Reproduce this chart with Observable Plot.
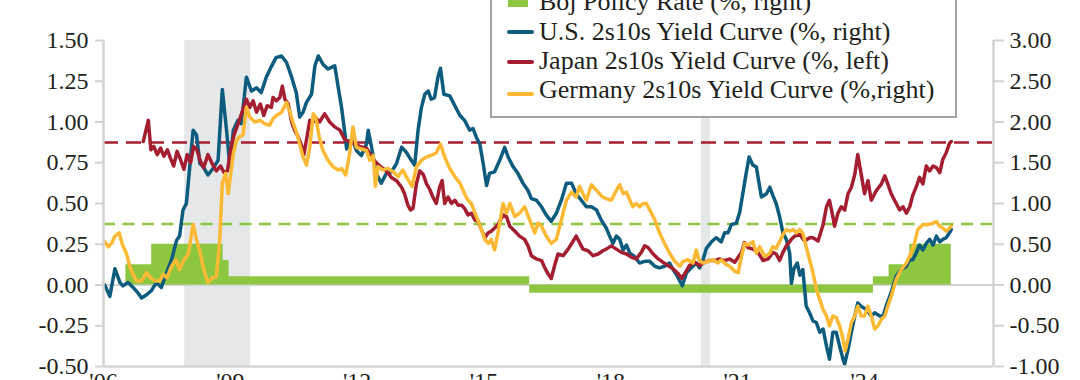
<!DOCTYPE html>
<html><head><meta charset="utf-8">
<script src="https://cdn.jsdelivr.net/npm/d3@7"></script>
<script src="https://cdn.jsdelivr.net/npm/@observablehq/plot@0.6"></script>
<style>
html,body{margin:0;padding:0;background:#fff;}
#wrap{position:relative;width:1080px;height:380px;overflow:hidden;background:#fff;}
</style></head>
<body><div id="wrap"></div>
<script>
// ---- data (decimal year, value) ----
// U.S. 2s10s (%, right axis)
const usCurve = [
[2006.03,0.00],[2006.15,-0.14],[2006.27,0.20],[2006.39,0.03],[2006.46,-0.01],[2006.58,0.03],[2006.70,-0.03],[2006.82,-0.10],[2006.90,-0.16],[2007.02,-0.12],[2007.13,-0.07],[2007.25,0.03],[2007.37,-0.03],[2007.49,0.15],[2007.61,0.31],[2007.73,0.55],[2007.80,0.60],[2007.88,0.92],[2007.96,1.00],[2008.04,1.45],[2008.12,1.90],[2008.20,1.84],[2008.28,1.49],[2008.36,1.45],[2008.47,1.35],[2008.59,1.43],[2008.71,1.53],[2008.81,2.40],[2008.91,1.90],[2008.99,1.45],[2009.07,1.90],[2009.18,2.02],[2009.26,1.98],[2009.38,2.55],[2009.50,2.38],[2009.62,2.42],[2009.73,2.36],[2009.85,2.55],[2009.97,2.68],[2010.08,2.79],[2010.21,2.81],[2010.33,2.73],[2010.45,2.55],[2010.56,2.36],[2010.64,2.06],[2010.72,2.12],[2010.80,2.24],[2010.92,2.34],[2011.00,2.69],[2011.08,2.81],[2011.19,2.71],[2011.31,2.65],[2011.39,2.67],[2011.47,2.69],[2011.55,2.43],[2011.63,2.18],[2011.71,1.86],[2011.75,1.67],[2011.82,1.77],[2011.90,1.77],[2011.98,1.65],[2012.10,1.59],[2012.22,1.73],[2012.26,1.90],[2012.34,1.69],[2012.45,1.37],[2012.57,1.25],[2012.69,1.37],[2012.81,1.39],[2012.93,1.49],[2013.05,1.69],[2013.16,1.63],[2013.28,1.53],[2013.36,1.47],[2013.44,1.90],[2013.52,2.18],[2013.60,2.34],[2013.68,2.38],[2013.75,2.28],[2013.83,2.30],[2013.91,2.55],[2013.97,2.66],[2014.05,2.34],[2014.19,2.32],[2014.31,2.20],[2014.43,2.08],[2014.54,2.02],[2014.66,1.90],[2014.74,1.92],[2014.82,1.81],[2014.90,1.73],[2014.98,1.49],[2015.06,1.22],[2015.13,1.37],[2015.25,1.39],[2015.37,1.53],[2015.49,1.69],[2015.57,1.57],[2015.69,1.45],[2015.80,1.37],[2015.92,1.25],[2016.04,1.16],[2016.12,1.06],[2016.24,1.04],[2016.36,0.96],[2016.47,0.86],[2016.59,0.78],[2016.71,0.88],[2016.83,1.04],[2016.95,1.25],[2017.07,1.25],[2017.18,1.12],[2017.30,1.04],[2017.42,0.96],[2017.54,0.96],[2017.66,0.92],[2017.77,0.80],[2017.89,0.70],[2017.97,0.60],[2018.05,0.51],[2018.13,0.60],[2018.21,0.56],[2018.29,0.43],[2018.37,0.49],[2018.45,0.39],[2018.56,0.35],[2018.68,0.27],[2018.80,0.29],[2018.92,0.29],[2019.04,0.23],[2019.15,0.21],[2019.27,0.23],[2019.39,0.27],[2019.47,0.19],[2019.55,0.13],[2019.63,0.05],[2019.69,-0.01],[2019.79,0.15],[2019.90,0.21],[2020.02,0.27],[2020.10,0.21],[2020.18,0.31],[2020.26,0.45],[2020.38,0.53],[2020.49,0.58],[2020.61,0.53],[2020.69,0.64],[2020.77,0.64],[2020.85,0.74],[2020.97,0.76],[2021.05,0.90],[2021.12,1.12],[2021.20,1.37],[2021.27,1.57],[2021.36,1.47],[2021.44,1.45],[2021.56,1.08],[2021.68,1.12],[2021.76,1.20],[2021.83,1.10],[2021.91,1.00],[2021.99,0.84],[2022.07,0.64],[2022.15,0.56],[2022.23,0.39],[2022.27,0.02],[2022.33,0.20],[2022.41,0.27],[2022.47,0.12],[2022.54,0.19],[2022.62,-0.26],[2022.70,-0.34],[2022.78,-0.44],[2022.86,-0.46],[2022.94,-0.58],[2023.02,-0.54],[2023.10,-0.75],[2023.17,-0.91],[2023.25,-0.58],[2023.33,-0.58],[2023.41,-0.75],[2023.49,-0.91],[2023.53,-0.97],[2023.61,-0.79],[2023.69,-0.58],[2023.77,-0.38],[2023.84,-0.22],[2023.92,-0.26],[2024.04,-0.30],[2024.16,-0.38],[2024.24,-0.34],[2024.36,-0.38],[2024.44,-0.38],[2024.51,-0.26],[2024.63,-0.09],[2024.75,0.11],[2024.87,0.19],[2024.99,0.23],[2025.07,0.31],[2025.14,0.31],[2025.22,0.39],[2025.30,0.49],[2025.38,0.43],[2025.46,0.51],[2025.54,0.56],[2025.62,0.49],[2025.70,0.60],[2025.78,0.53],[2025.85,0.56],[2025.93,0.58],[2026.01,0.64],[2026.05,0.68]
];
// Japan 2s10s (%, left axis)
const japanCurve = [
[2006.94,0.88],[2007.06,1.01],[2007.12,0.83],[2007.19,0.85],[2007.27,0.80],[2007.35,0.84],[2007.43,0.79],[2007.51,0.83],[2007.58,0.78],[2007.66,0.73],[2007.74,0.82],[2007.82,0.77],[2007.90,0.71],[2007.98,0.80],[2008.06,0.75],[2008.13,0.85],[2008.21,0.83],[2008.29,0.76],[2008.37,0.72],[2008.47,0.80],[2008.58,0.74],[2008.67,0.70],[2008.77,0.73],[2008.85,0.69],[2008.93,0.70],[2009.02,0.85],[2009.10,0.93],[2009.20,1.00],[2009.30,1.08],[2009.38,1.14],[2009.46,1.09],[2009.54,1.13],[2009.62,1.06],[2009.71,1.11],[2009.79,1.04],[2009.87,1.10],[2009.97,1.09],[2010.01,1.15],[2010.09,1.13],[2010.17,1.15],[2010.23,1.22],[2010.29,1.14],[2010.37,1.11],[2010.45,1.00],[2010.52,0.95],[2010.60,0.91],[2010.68,0.86],[2010.74,0.80],[2010.80,0.89],[2010.88,1.01],[2010.96,1.00],[2011.04,1.02],[2011.11,1.00],[2011.23,1.05],[2011.35,1.00],[2011.47,0.97],[2011.59,0.95],[2011.71,0.89],[2011.90,0.87],[2012.06,0.85],[2012.22,0.84],[2012.38,0.77],[2012.53,0.73],[2012.69,0.70],[2012.81,0.66],[2012.93,0.64],[2013.05,0.60],[2013.12,0.56],[2013.20,0.49],[2013.26,0.46],[2013.32,0.47],[2013.40,0.62],[2013.48,0.70],[2013.56,0.68],[2013.64,0.62],[2013.71,0.59],[2013.79,0.54],[2013.87,0.50],[2013.95,0.60],[2014.01,0.64],[2014.07,0.50],[2014.15,0.54],[2014.23,0.50],[2014.31,0.52],[2014.39,0.49],[2014.47,0.49],[2014.54,0.47],[2014.62,0.43],[2014.70,0.44],[2014.78,0.40],[2014.86,0.39],[2014.94,0.34],[2015.02,0.29],[2015.10,0.32],[2015.17,0.33],[2015.25,0.35],[2015.33,0.37],[2015.45,0.43],[2015.53,0.42],[2015.61,0.36],[2015.73,0.33],[2015.84,0.30],[2015.96,0.28],[2016.04,0.24],[2016.12,0.18],[2016.24,0.16],[2016.36,0.15],[2016.43,0.11],[2016.51,0.07],[2016.59,0.04],[2016.67,0.12],[2016.75,0.19],[2016.87,0.18],[2016.99,0.22],[2017.11,0.27],[2017.18,0.30],[2017.26,0.26],[2017.34,0.22],[2017.46,0.21],[2017.58,0.18],[2017.70,0.19],[2017.81,0.21],[2017.89,0.22],[2018.01,0.24],[2018.13,0.22],[2018.25,0.20],[2018.37,0.19],[2018.49,0.17],[2018.60,0.16],[2018.72,0.20],[2018.80,0.24],[2018.88,0.23],[2019.00,0.19],[2019.12,0.16],[2019.23,0.14],[2019.35,0.12],[2019.47,0.10],[2019.59,0.07],[2019.67,0.04],[2019.75,0.07],[2019.86,0.12],[2019.98,0.14],[2020.10,0.12],[2020.22,0.14],[2020.34,0.15],[2020.46,0.15],[2020.57,0.16],[2020.69,0.15],[2020.81,0.16],[2020.93,0.14],[2021.01,0.17],[2021.09,0.20],[2021.16,0.26],[2021.24,0.23],[2021.36,0.22],[2021.48,0.20],[2021.60,0.15],[2021.72,0.16],[2021.83,0.20],[2021.91,0.19],[2021.99,0.15],[2022.07,0.20],[2022.15,0.24],[2022.27,0.28],[2022.35,0.30],[2022.47,0.31],[2022.58,0.27],[2022.70,0.29],[2022.78,0.29],[2022.90,0.27],[2023.02,0.37],[2023.10,0.48],[2023.17,0.52],[2023.25,0.42],[2023.29,0.36],[2023.37,0.44],[2023.45,0.48],[2023.53,0.46],[2023.61,0.56],[2023.69,0.60],[2023.77,0.68],[2023.84,0.80],[2023.92,0.68],[2024.00,0.56],[2024.08,0.64],[2024.16,0.52],[2024.28,0.58],[2024.40,0.62],[2024.48,0.67],[2024.55,0.62],[2024.63,0.56],[2024.75,0.50],[2024.83,0.46],[2024.91,0.48],[2024.99,0.44],[2025.07,0.48],[2025.14,0.55],[2025.22,0.60],[2025.30,0.66],[2025.38,0.62],[2025.46,0.73],[2025.54,0.70],[2025.62,0.73],[2025.70,0.72],[2025.78,0.69],[2025.85,0.77],[2025.93,0.81],[2026.01,0.87],[2026.05,0.88]
];
// Germany 2s10s (%, right axis)
const germanyCurve = [
[2006.03,0.53],[2006.11,0.47],[2006.19,0.51],[2006.27,0.60],[2006.37,0.64],[2006.45,0.49],[2006.54,0.39],[2006.62,0.23],[2006.70,0.13],[2006.78,0.05],[2006.90,0.05],[2007.02,0.15],[2007.11,0.09],[2007.21,0.05],[2007.33,0.05],[2007.41,0.13],[2007.50,0.09],[2007.61,0.23],[2007.71,0.31],[2007.80,0.19],[2007.90,0.31],[2008.00,0.37],[2008.12,0.74],[2008.20,0.56],[2008.29,0.39],[2008.37,0.19],[2008.47,0.03],[2008.58,0.09],[2008.67,0.10],[2008.75,0.56],[2008.81,1.25],[2008.89,1.37],[2008.95,1.12],[2009.00,1.33],[2009.07,1.61],[2009.14,1.77],[2009.22,1.82],[2009.30,1.84],[2009.38,2.18],[2009.46,2.06],[2009.58,2.00],[2009.70,2.02],[2009.81,1.98],[2009.93,1.96],[2010.01,2.04],[2010.09,2.08],[2010.21,2.12],[2010.33,2.24],[2010.41,2.12],[2010.48,2.00],[2010.56,1.88],[2010.64,1.73],[2010.72,1.57],[2010.80,1.47],[2010.88,1.69],[2010.96,2.10],[2011.02,2.06],[2011.10,1.82],[2011.19,1.65],[2011.31,1.53],[2011.43,1.45],[2011.55,1.41],[2011.63,1.43],[2011.73,1.35],[2011.82,1.61],[2011.90,1.94],[2011.98,1.69],[2012.10,1.67],[2012.22,1.65],[2012.30,1.53],[2012.38,1.59],[2012.43,1.21],[2012.49,1.45],[2012.61,1.41],[2012.73,1.43],[2012.85,1.39],[2012.97,1.33],[2013.08,1.41],[2013.16,1.33],[2013.30,1.21],[2013.40,1.45],[2013.52,1.53],[2013.64,1.57],[2013.75,1.59],[2013.87,1.62],[2013.97,1.73],[2014.07,1.57],[2014.19,1.43],[2014.31,1.33],[2014.43,1.25],[2014.54,1.12],[2014.62,1.04],[2014.70,1.00],[2014.82,0.84],[2014.94,0.68],[2015.02,0.56],[2015.10,0.51],[2015.17,0.56],[2015.25,0.43],[2015.33,0.64],[2015.45,1.00],[2015.53,0.88],[2015.61,1.00],[2015.73,0.84],[2015.84,0.88],[2015.96,0.96],[2016.08,0.80],[2016.20,0.64],[2016.28,0.76],[2016.36,0.72],[2016.47,0.60],[2016.59,0.51],[2016.71,0.56],[2016.83,0.80],[2016.95,1.04],[2017.07,1.14],[2017.18,1.08],[2017.26,1.21],[2017.34,1.12],[2017.42,1.04],[2017.54,1.23],[2017.66,1.16],[2017.73,1.12],[2017.81,1.08],[2017.89,1.06],[2018.01,1.04],[2018.13,1.16],[2018.21,1.23],[2018.29,1.12],[2018.37,1.14],[2018.45,1.04],[2018.52,0.96],[2018.60,1.00],[2018.68,0.96],[2018.76,1.00],[2018.84,1.00],[2018.92,0.92],[2019.04,0.80],[2019.15,0.64],[2019.27,0.51],[2019.39,0.39],[2019.51,0.29],[2019.63,0.23],[2019.71,0.29],[2019.82,0.31],[2019.94,0.27],[2020.02,0.43],[2020.08,0.31],[2020.18,0.27],[2020.30,0.29],[2020.42,0.31],[2020.53,0.27],[2020.61,0.31],[2020.73,0.25],[2020.81,0.23],[2020.93,0.17],[2021.01,0.15],[2021.09,0.35],[2021.16,0.51],[2021.24,0.49],[2021.36,0.53],[2021.44,0.39],[2021.52,0.47],[2021.64,0.35],[2021.76,0.39],[2021.83,0.47],[2021.91,0.45],[2021.99,0.53],[2022.07,0.62],[2022.15,0.68],[2022.23,0.66],[2022.31,0.68],[2022.39,0.64],[2022.47,0.68],[2022.54,0.64],[2022.62,0.47],[2022.70,0.31],[2022.78,0.15],[2022.86,-0.05],[2022.94,-0.18],[2023.02,-0.30],[2023.10,-0.38],[2023.17,-0.50],[2023.25,-0.38],[2023.33,-0.40],[2023.41,-0.50],[2023.49,-0.66],[2023.54,-0.81],[2023.61,-0.66],[2023.69,-0.46],[2023.77,-0.38],[2023.84,-0.26],[2023.92,-0.38],[2024.00,-0.38],[2024.08,-0.26],[2024.16,-0.38],[2024.24,-0.54],[2024.32,-0.50],[2024.40,-0.42],[2024.48,-0.38],[2024.55,-0.26],[2024.63,-0.14],[2024.75,0.07],[2024.87,0.19],[2024.99,0.27],[2025.10,0.39],[2025.18,0.51],[2025.26,0.68],[2025.38,0.74],[2025.50,0.74],[2025.62,0.76],[2025.70,0.78],[2025.78,0.72],[2025.85,0.70],[2025.93,0.66],[2026.01,0.70],[2026.05,0.72]
];
// BoJ policy rate (%, right axis), step changes
const bojRate = [
[2006.53,0.25],[2007.14,0.50],[2008.83,0.30],[2008.97,0.10],[2016.08,-0.10],[2024.21,0.10],[2024.58,0.25],[2025.07,0.50],[2026.05,0.50]
];
// recessions (start, end)
const recessions = [[2007.92,2009.48],[2020.14,2020.36]];
// reference levels
const japanLevel = 0.875;   // left axis
const bojLevel = 0.75;      // right axis
// ticks
const leftTicks = [-0.5,-0.25,0,0.25,0.5,0.75,1,1.25,1.5];
const xTicks = [2006,2009,2012,2015,2018,2021,2024];
const xDomain = [2006, 2027.05];
const legendLabels = ["Boj Policy Rate (%, right)","U.S. 2s10s Yield Curve (%, right)","Japan 2s10s Yield Curve (%, left)","Germany 2s10s Yield Curve (%,right)"];

const C = {blue:"#0d5b7d", red:"#a51d31", yellow:"#fcb933", green:"#8dc63f", gray:"#d3d3d3", rec:"#e6e7e9", text:"#231f20"};
const rows = a => a.map(([t,v]) => ({t, v}));
const half = d => d.v / 2; // right-axis values mapped onto the left scale

const chart = Plot.plot({
  width: 1080, height: 380,
  marginTop: 40, marginBottom: 14, marginLeft: 103, marginRight: 87,
  style: {fontFamily: "'Liberation Serif', serif", fontSize: "24px", background: "#fff", color: C.text},
  x: {domain: xDomain, label: null},
  y: {domain: [-0.5, 1.5], label: null},
  marks: [
    Plot.rect(recessions, {x1: d => d[0], x2: d => d[1], y1: () => -0.5, y2: () => 1.5, fill: C.rec}),
    Plot.ruleY([0], {stroke: C.gray, strokeWidth: 2}),
    Plot.areaY(rows(bojRate), {x: "t", y: half, curve: "step-after", fill: C.green}),
    Plot.ruleY([japanLevel], {stroke: C.red, strokeWidth: 2.5, strokeDasharray: "15,8"}),
    Plot.ruleY([bojLevel / 2], {stroke: C.green, strokeWidth: 2.5, strokeDasharray: "12,7.5"}),
    Plot.line(rows(usCurve), {x: "t", y: half, stroke: C.blue, strokeWidth: 3.5, strokeLinejoin: "round"}),
    Plot.line(rows(japanCurve), {x: "t", y: "v", stroke: C.red, strokeWidth: 3.5, strokeLinejoin: "round"}),
    Plot.line(rows(germanyCurve), {x: "t", y: half, stroke: C.yellow, strokeWidth: 3.5, strokeLinejoin: "round"}),
    Plot.ruleX([xDomain[0]], {stroke: C.gray, strokeWidth: 2.5}),
    Plot.ruleX([xDomain[1]], {stroke: C.gray, strokeWidth: 2.5}),
    Plot.ruleY([-0.5], {stroke: C.gray, strokeWidth: 2.5}),
    Plot.axisY(leftTicks, {anchor: "left", tickFormat: d => d.toFixed(2), tickSize: 8, tickPadding: 7, stroke: C.gray, strokeWidth: 2, fill: C.text, fontSize: 24, label: null}),
    Plot.axisY(leftTicks, {anchor: "right", tickFormat: d => (d * 2).toFixed(2), tickSize: 10, tickPadding: 6, stroke: C.gray, strokeWidth: 2, fill: C.text, fontSize: 24, label: null}),
    Plot.axisX(xTicks, {tickFormat: d => "'" + String(d).slice(2), tickSize: 0, tickPadding: 5, fill: C.text, fontSize: 24, label: null})
  ]
});
const wrap = document.getElementById("wrap");
wrap.appendChild(chart);

// legend overlay
const lg = d3.select(wrap).append("svg")
  .attr("width", 1080).attr("height", 380)
  .style("position", "absolute").style("left", "0px").style("top", "0px");
lg.append("rect").attr("x", 491).attr("y", -40).attr("width", 465).attr("height", 157)
  .attr("fill", "#fff").attr("stroke", "#a3a3a3").attr("stroke-width", 2);
const baselines = [10, 39.5, 68.5, 97.5];
const swatchY = [0, 32, 62, 94];
const swatchColors = [C.green, C.blue, C.red, C.yellow];
legendLabels.forEach((lab, i) => {
  if (i === 0) {
    lg.append("rect").attr("x", 508).attr("y", -12).attr("width", 20).attr("height", 19).attr("fill", C.green);
  } else {
    lg.append("line").attr("x1", 509).attr("x2", 532).attr("y1", swatchY[i]).attr("y2", swatchY[i])
      .attr("stroke", swatchColors[i]).attr("stroke-width", 4).attr("stroke-linecap", "round");
  }
  lg.append("text").attr("x", 539).attr("y", baselines[i]).text(lab)
    .attr("font-family", "'Liberation Serif', serif").attr("font-size", 26).attr("fill", C.text);
});
</script></body></html>
